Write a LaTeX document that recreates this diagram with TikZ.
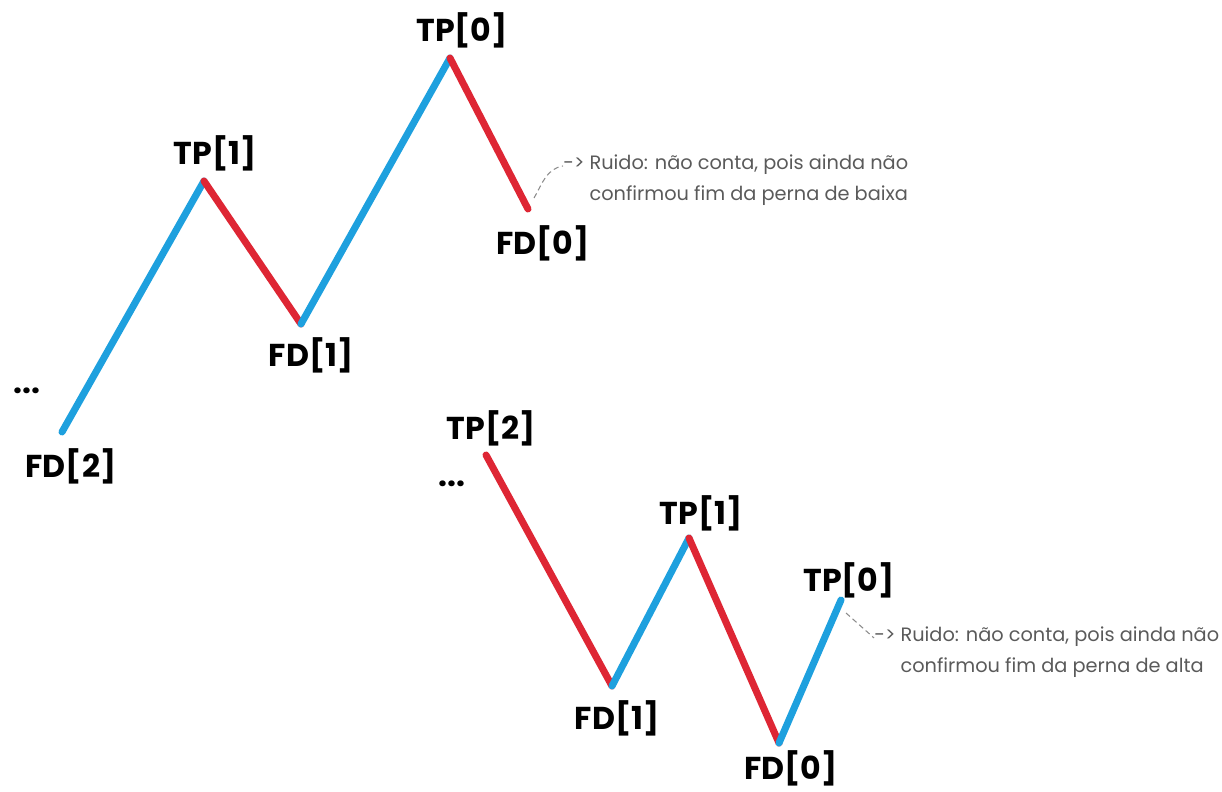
\documentclass[tikz,border=0pt]{standalone}
\usepackage{fontspec}
\setmainfont{Poppins}
\usepackage{tikz}

\definecolor{legblue}{RGB}{30,160,222}
\definecolor{legred}{RGB}{222,38,52}
\definecolor{notegray}{RGB}{90,90,90}

\tikzset{
  up/.style={legblue,line width=4pt,line cap=round},
  down/.style={legred,line width=4pt,line cap=round},
  lbl/.style={font=\fontsize{18}{20}\selectfont\bfseries,text=black,inner sep=0pt},
  note/.style={font=\fontsize{11}{18}\selectfont,text=notegray,align=left,anchor=west,inner sep=0pt},
  noteline/.style={notegray!70,densely dashed,line width=0.6pt},
}

\begin{document}
\begin{tikzpicture}[x=0.02cm,y=-0.02cm]
            \useasboundingbox (0,0) rectangle (1222,791);

            % Upper swing: the points
            \coordinate (aFD2) at (62,432);
            \coordinate (aTP1) at (204,181);
            \coordinate (aFD1) at (301,324);
            \coordinate (aTP0) at (450,58);
            \coordinate (aFD0) at (528,209);

            % Upper swing: the legs
            \draw[up] (aFD2) -- (aTP1);
            \draw[down] (aTP1) -- (aFD1);
            \draw[up] (aFD1) -- (aTP0);
            \draw[down] (aTP0) -- (aFD0);

            % Upper swing: labels
            \node[lbl] (laTP0) at (462,30) {TP[0]};
            \node[lbl] (laTP1) at (215,153) {TP[1]};
            \node[lbl] (laFD1) at (311,355) {FD[1]};
            \node[lbl] (laFD0) at (543,243) {FD[0]};
            \node[lbl] (laFD2) at (71,466) {FD[2]};
            \node[lbl] (laDots) at (27,391) {...};

            % Upper swing: note
            \node[note] (noteA) at (563,180) {-{}> Ruido: não conta, pois ainda não\\
              \hphantom{-{}> }confirmou fim da perna de baixa};
            \coordinate (aNoteStart) at (534,198);
            \draw[noteline] (aNoteStart) to[out=60,in=190] ([yshift=8pt]noteA.west);

            % Lower swing: the points
            \coordinate (bTP2) at (486,455);
            \coordinate (bFD1) at (612,686);
            \coordinate (bTP1) at (689,538);
            \coordinate (bFD0) at (779,743);
            \coordinate (bTP0) at (841,600);

            % Lower swing: the legs
            \draw[down] (bTP2) -- (bFD1);
            \draw[up] (bFD1) -- (bTP1);
            \draw[down] (bTP1) -- (bFD0);
            \draw[up] (bFD0) -- (bTP0);

            % Lower swing: labels
            \node[lbl] (lbTP2) at (491,428) {TP[2]};
            \node[lbl] (lbTP1) at (701,513) {TP[1]};
            \node[lbl] (lbTP0) at (849,580) {TP[0]};
            \node[lbl] (lbFD1) at (617,718) {FD[1]};
            \node[lbl] (lbFD0) at (791,768) {FD[0]};
            \node[lbl] (lbDots) at (452,484) {...};

            % Lower swing: note
            \node[note] (noteB) at (874,652) {-{}> Ruido: não conta, pois ainda não\\
              \hphantom{-{}> }confirmou fim da perna de alta};
            \coordinate (bNoteStart) at (846,613);
            \draw[noteline] (bNoteStart) -- ([yshift=8pt]noteB.west);
\end{tikzpicture}
\end{document}
